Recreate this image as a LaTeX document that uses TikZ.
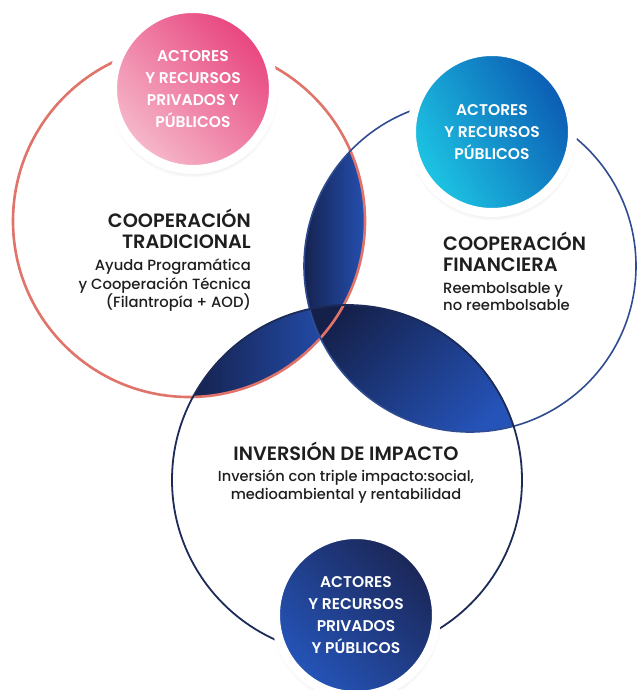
\documentclass[tikz,border=0pt]{standalone}
\usepackage{fontspec}
\setmainfont{Poppins}
\newfontfamily\popsb{Poppins SemiBold}
\newfontfamily\popmd{Poppins Medium}
\usetikzlibrary{positioning,shadows,calc}

\definecolor{ringred}{HTML}{E0736A}
\definecolor{ringblue}{HTML}{2F4C92}
\definecolor{ringnavy}{HTML}{1C2B58}
\definecolor{lensdark}{HTML}{15204A}
\definecolor{lensblue}{HTML}{2553B8}
\definecolor{pinkdark}{HTML}{E8447E}
\definecolor{pinklight}{HTML}{F6B9CB}
\definecolor{tealcyan}{HTML}{1DC6E4}
\definecolor{tealblue}{HTML}{0B5BB3}
\definecolor{navydark}{HTML}{1B2656}
\definecolor{navyblue}{HTML}{2555BA}
\definecolor{txtdark}{HTML}{1E1E1E}

\tikzset{
  actors/.style={circle, minimum size=161pt, inner sep=0pt, draw=white, line width=9pt,
    text=white, align=center, font=\popsb\fontsize{15.5}{22}\selectfont,
    circular drop shadow={shadow xshift=0pt, shadow yshift=-3pt, shadow scale=1.06, opacity=0.35}},
  headtxt/.style={inner sep=0pt, text=txtdark, font=\popsb\fontsize{19.3}{21}\selectfont},
  subtxt/.style={inner sep=0pt, text=txtdark, font=\popmd\fontsize{14.8}{18.5}\selectfont},
}

\begin{document}
\begin{tikzpicture}[x=1pt, y=-1pt]
    \useasboundingbox (0,0) rectangle (638,690);

    % centres of the three big circles
    \coordinate (tradc) at (189,221);
    \coordinate (finc) at (470,266);
    \coordinate (invc) at (347,480);

    % overlaps
    \begin{scope}
        \clip (tradc) circle[radius=176pt];
        \clip (finc) circle[radius=166pt];
        \shade[left color=lensdark, right color=lensblue] (300,145) rectangle (370,345);
    \end{scope}
    \begin{scope}
        \clip (tradc) circle[radius=176pt];
        \clip (invc) circle[radius=175pt];
        \shade[left color=lensdark, right color=lensblue] (185,300) rectangle (350,400);
    \end{scope}
    \begin{scope}
        \clip (finc) circle[radius=166pt];
        \clip (invc) circle[radius=175pt];
        \shade[top color=lensdark, bottom color=lensblue, shading angle=45] (300,300) rectangle (525,435);
    \end{scope}

    % outlines
    \draw[ringred, line width=2.6pt] (tradc) circle[radius=176pt];
    \draw[ringblue, line width=1.6pt] (finc) circle[radius=166pt];
    \draw[ringnavy, line width=1.8pt] (invc) circle[radius=175pt];

    % actor circles
    \node[actors, top color=pinkdark, bottom color=pinklight, shading angle=-45] (pubpriv) at (193,89)
        {ACTORES\\Y RECURSOS\\PRIVADOS Y\\PÚBLICOS};
    \node[actors, top color=tealblue, bottom color=tealcyan, shading angle=-60] (pub) at (492,132)
        {ACTORES\\Y RECURSOS\\PÚBLICOS};
    \node[actors, top color=navydark, bottom color=navyblue, shading angle=-45] (privpub) at (356,615)
        {ACTORES\\Y RECURSOS\\PRIVADOS\\Y PÚBLICOS};

    % texts
    \node[headtxt, align=right, anchor=north east] (tradhead) at (251,209) {COOPERACIÓN\\TRADICIONAL};
    \node[subtxt, align=right, below=10pt of tradhead.south east, anchor=north east] (tradsub)
        {Ayuda Programática\\y Cooperación Técnica\\(Filantropía + AOD)};

    \node[headtxt, align=left, anchor=north west] (finhead) at (443,232) {COOPERACIÓN\\FINANCIERA};
    \node[subtxt, align=left, below=10pt of finhead.south west, anchor=north west,
          font=\popmd\fontsize{14.8}{17}\selectfont] (finsub)
        {Reembolsable y\\no reembolsable};

    \node[headtxt, anchor=north] (invhead) at (346,442) {INVERSIÓN DE IMPACTO};
    \node[subtxt, align=center, below=9pt of invhead.south, anchor=north,
          font=\popmd\fontsize{14.6}{17.5}\selectfont] (invsub)
        {Inversión con triple impacto:social,\\medioambiental y rentabilidad};
\end{tikzpicture}
\end{document}
